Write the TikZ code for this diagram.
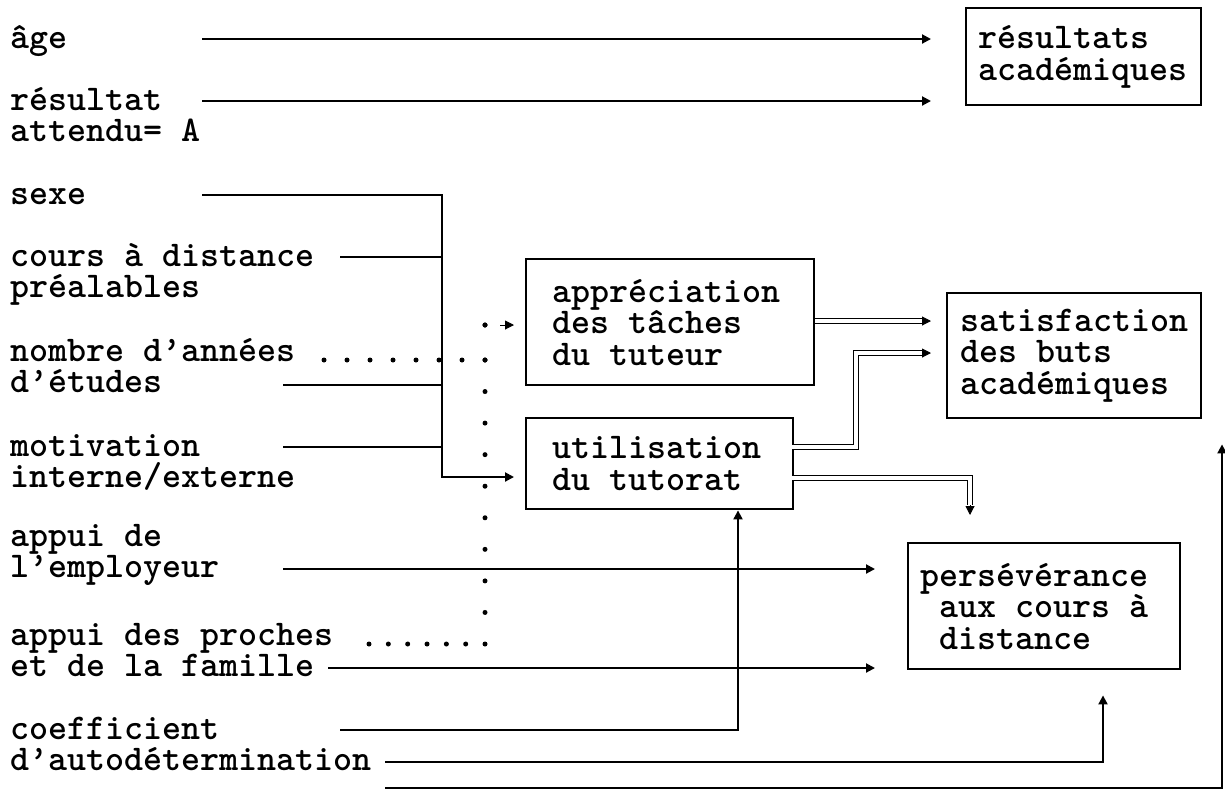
\documentclass[tikz,border=0pt]{standalone}
\usepackage{fontspec}
\usetikzlibrary{arrows.meta,calc}
\begin{document}
\begin{tikzpicture}[x=0.5pt,y=-0.5pt,
  txt/.style={font=\ttfamily\bfseries\fontsize{18.1}{15.75}\selectfont},
  lab/.style={txt, anchor=base west, inner sep=0pt, align=left},
  boxnode/.style={txt, draw, line width=1.2pt, anchor=north west, align=flush left, inner ysep=0pt},
  conn/.style={line width=1pt},
  arrowtip/.style={-{Triangle[length=4.5pt,width=4.5pt]}},
  dotline/.style={line width=2.5pt, line cap=round},
  dblline/.style={double, double distance=1.6pt, line width=0.7pt}
]
\useasboundingbox (0,0) rectangle (1225,794);

% labels (base anchor = baseline of the last line)
\node[lab] (age) at (10,48) {âge};
\node[lab] (resa) at (10,141.5) {résultat\\attendu= A};
\node[lab] (sexe) at (10,204) {sexe};
\node[lab] (cours) at (10,297.5) {cours à distance\\préalables};
\node[lab] (nombre) at (10,392.5) {nombre d’années\\d’études};
\node[lab] (motiv) at (10,487.5) {motivation\\interne/externe};
\node[lab] (employ) at (10,577.5) {appui de\\l’employeur};
\node[lab] (proches) at (10,676.5) {appui des proches\\et de la famille};
\node[lab] (coef) at (10,770.5) {coefficient\\d’autodétermination};

% boxes
\node[boxnode, inner xsep=6pt, text width=105.5pt, minimum height=48.5pt] (res) at (965,7) {résultats\\académiques};
\node[boxnode, inner xsep=13pt, text width=118pt, minimum height=63pt] (app) at (525,258) {appréciation\\des tâches\\du tuteur};
\node[boxnode, inner xsep=6.5pt, text width=114pt, minimum height=62.5pt] (sat) at (946,292) {satisfaction\\des buts\\académiques};
\node[boxnode, inner xsep=13pt, text width=107.5pt, minimum height=45.5pt] (util) at (525,417) {utilisation\\du tutorat};
\node[boxnode, inner xsep=6pt, text width=124pt, minimum height=63pt] (per) at (907,542) {persévérance\\\hspace*{0.525em}aux cours à\\\hspace*{0.525em}distance};

% connector start / bend points
\coordinate (c1) at (202,39);
\coordinate (c2) at (202,101);
\coordinate (c3) at (202,195);
\coordinate (j1) at (442,195);
\coordinate (jb) at (442,477);
\coordinate (c4) at (340,257);
\coordinate (c5) at (283,385);
\coordinate (c6) at (283,447);
\coordinate (c7) at (283,569);
\coordinate (c8) at (328,668);
\coordinate (c9) at (340,730);
\coordinate (k9) at (738,730);
\coordinate (c10) at (385,762);
\coordinate (k10) at (1103,762);
\coordinate (c11) at (385,788);
\coordinate (k11) at (1222,788);
% dotted
\coordinate (dn) at (324,360);
\coordinate (dv) at (485,360);
\coordinate (dj) at (485,325);
\coordinate (dk) at (500,325);
\coordinate (dp0) at (369,644);
\coordinate (dp) at (485,644);
% double arrows
\coordinate (p1) at (923,321);
\coordinate (u2) at (792,447);
\coordinate (b2) at (856,447);
\coordinate (b2t) at (856,353);
\coordinate (p2) at (923,353);
\coordinate (u3) at (792,478);
\coordinate (b3) at (970,478);
\coordinate (p3) at (970,505);

% solid connectors
\draw[conn, arrowtip, shorten >=17pt] (c1) -- (res.west |- c1);
\draw[conn, arrowtip, shorten >=17pt] (c2) -- (res.west |- c2);
\draw[conn, arrowtip, shorten >=5.5pt] (c3) -- (j1) -- (jb) -- (util.west |- jb);
\draw[conn] (c4) -- (c4 -| j1);
\draw[conn] (c5) -- (c5 -| j1);
\draw[conn] (c6) -- (c6 -| j1);
\draw[conn, arrowtip, shorten >=16pt] (c7) -- (per.west |- c7);
\draw[conn, arrowtip, shorten >=16pt] (c8) -- (per.west |- c8);
\draw[conn, arrowtip] (c9) -- (k9) -- (k9 |- util.south);
\draw[conn, arrowtip, shorten >=12.5pt] (c10) -- (k10) -- (k10 |- per.south);
\draw[conn, arrowtip, shorten >=12.5pt] (c11) -- (k11) -- (k11 |- sat.south);

% dotted connectors
\draw[dotline, dash pattern=on 0pt off 11.5pt] (dn) -- (dv);
\draw[dotline, dash pattern=on 0pt off 9.67pt] (dp0) -- (dp);
\draw[dotline, dash pattern=on 0pt off 15.78pt] (dp) -- (dv);
\draw[dotline, dash pattern=on 0pt off 17.5pt] (dv) -- (dj);
\draw[dotline, dash pattern=on 0pt off 7.5pt] (dj) -- (dk);
\draw[arrowtip, line width=0.5pt, shorten >=5.5pt] (dk) -- (app.west |- dk);

% double connectors
\draw[dblline] (app.east |- p1) -- (p1);
\draw[arrowtip, line width=0.5pt, shorten >=7.5pt] (p1) -- (sat.west |- p1);
\draw[dblline] (u2) -- (b2) -- (b2t) -- (p2);
\draw[arrowtip, line width=0.5pt, shorten >=7.5pt] (p2) -- (sat.west |- p2);
\draw[dblline] (u3) -- (b3) -- (p3);
\draw[arrowtip, line width=0.5pt] (p3) -- ++(0,10);
\end{tikzpicture}
\end{document}
